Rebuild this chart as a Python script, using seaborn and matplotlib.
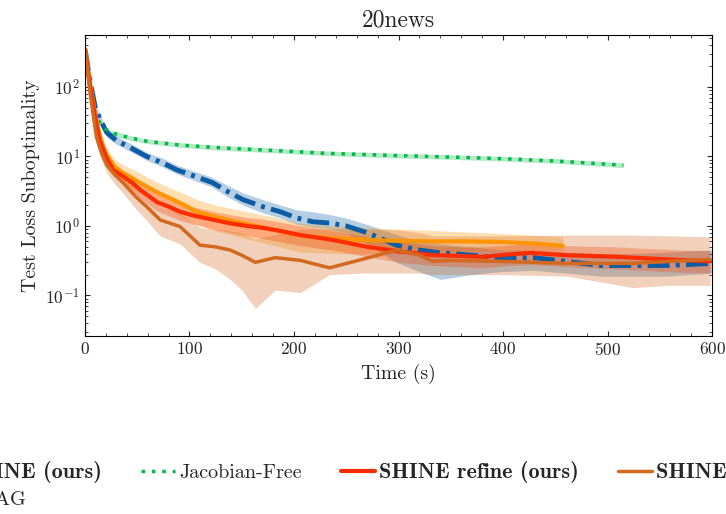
import numpy as np
import matplotlib
matplotlib.use('Agg')
import matplotlib.pyplot as plt
import seaborn as sns
from matplotlib.ticker import MultipleLocator, LogLocator

# ── Data ──────────────────────────────────────────────────────────────────────
shine_t = [0, 5, 10, 15, 21, 30, 45, 59, 75, 88, 105, 122, 137, 151, 170, 187,
           203, 218, 235, 250, 270, 298, 320, 340, 370, 397, 429, 460, 493,
           525, 557, 580, 600]
shine_y = [350, 120, 50, 33, 22, 17, 13, 10, 8, 6.4, 5.2, 4.2, 3.1, 2.4, 1.9,
           1.6, 1.3, 1.15, 1.1, 1.0, 0.8, 0.53, 0.45, 0.41, 0.38, 0.35, 0.35,
           0.31, 0.27, 0.27, 0.27, 0.28, 0.29]
shine_lo = [330, 105, 44, 29, 19, 15, 11.5, 8.8, 7, 5.6, 4.5, 3.6, 2.6, 2.0,
            1.55, 1.3, 1.05, 0.95, 0.9, 0.8, 0.55, 0.3, 0.22, 0.17, 0.2, 0.22,
            0.23, 0.21, 0.19, 0.19, 0.19, 0.2, 0.21]
shine_hi = [370, 135, 57, 38, 25, 19.5, 15, 11.5, 9.3, 7.5, 6.1, 5.0, 3.8, 3.0,
            2.4, 2.0, 1.7, 1.6, 1.45, 1.3, 1.05, 0.75, 0.6, 0.55, 0.5, 0.45,
            0.45, 0.42, 0.4, 0.4, 0.42, 0.44, 0.45]

jf_t = [0, 5, 10, 16, 25, 43, 60, 91, 120, 139, 180, 231, 300, 350, 400, 450, 515]
jf_y = [350, 100, 40, 27, 22, 18.5, 16.5, 14.6, 13.6, 13.1, 12.2, 11.1, 10.3,
        9.8, 9.3, 8.6, 7.5]
jf_lo = [330, 92, 37, 25, 20.3, 17.1, 15.3, 13.5, 12.6, 12.1, 11.3, 10.3, 9.5,
         9.1, 8.6, 8.0, 6.9]
jf_hi = [370, 108, 43, 29, 23.8, 20, 17.8, 15.8, 14.7, 14.2, 13.2, 12.0, 11.1,
         10.6, 10.0, 9.3, 8.1]

refine_t = [0, 5, 10, 14, 20, 27, 37, 45, 53, 69, 80, 91, 105, 116, 139, 155,
            170, 185, 206, 237, 270, 301, 333, 360, 381, 405, 426, 461, 509,
            557, 598]
refine_y = [350, 100, 35, 17, 10, 6.4, 5.1, 4.2, 3.3, 2.2, 1.9, 1.6, 1.4, 1.29,
            1.09, 1.0, 0.94, 0.86, 0.74, 0.63, 0.5, 0.43, 0.38, 0.37, 0.36,
            0.39, 0.41, 0.38, 0.36, 0.33, 0.31]
refine_lo = [330, 85, 29, 14, 8.2, 5.2, 4.0, 3.2, 2.5, 1.65, 1.4, 1.2, 1.05,
             0.95, 0.8, 0.72, 0.66, 0.6, 0.52, 0.45, 0.36, 0.3, 0.27, 0.26,
             0.25, 0.27, 0.28, 0.26, 0.24, 0.22, 0.21]
refine_hi = [370, 115, 41, 20, 12, 7.8, 6.3, 5.3, 4.2, 2.9, 2.5, 2.1, 1.85,
             1.7, 1.45, 1.32, 1.25, 1.15, 1.0, 0.86, 0.7, 0.6, 0.52, 0.5, 0.5,
             0.53, 0.55, 0.52, 0.5, 0.46, 0.44]

hoag_t = [0, 5, 10, 15, 20, 28, 36, 43, 50, 59, 70, 84, 95, 107, 125, 150, 175,
          206, 240, 270, 300, 333, 365, 397, 430, 457]
hoag_y = [350, 110, 38, 18, 11, 7.2, 5.8, 5.1, 4.4, 3.7, 3.0, 2.4, 2.0, 1.6,
          1.35, 1.1, 0.92, 0.72, 0.66, 0.63, 0.61, 0.6, 0.6, 0.59, 0.56, 0.52]
hoag_lo = [330, 95, 31, 14, 8.5, 5.4, 4.3, 3.6, 3.1, 2.6, 2.0, 1.6, 1.3, 1.05,
           0.85, 0.68, 0.55, 0.42, 0.4, 0.4, 0.4, 0.42, 0.43, 0.44, 0.44, 0.44]
hoag_hi = [370, 125, 45, 22, 14, 9.2, 7.6, 6.8, 6.0, 5.1, 4.2, 3.4, 2.9, 2.4,
           2.0, 1.65, 1.4, 1.1, 1.0, 0.95, 0.9, 0.86, 0.82, 0.78, 0.74, 0.7]

opa_t = [0, 5, 11, 16, 21, 27, 37, 49, 59, 72, 91, 110, 125, 139, 150, 163,
         182, 206, 234, 265, 298, 320, 333, 349, 397, 461, 524, 560, 598]
opa_y = [350, 80, 19, 11, 7.5, 5.8, 4.1, 2.6, 1.9, 1.22, 0.98, 0.53, 0.5, 0.45,
         0.38, 0.30, 0.35, 0.32, 0.25, 0.33, 0.45, 0.38, 0.31, 0.32, 0.31,
         0.29, 0.29, 0.31, 0.33]
opa_lo = [330, 68, 15.5, 8.7, 5.8, 4.3, 2.9, 1.75, 1.2, 0.72, 0.55, 0.3, 0.24,
          0.17, 0.12, 0.065, 0.12, 0.11, 0.2, 0.21, 0.21, 0.21, 0.2, 0.2, 0.2,
          0.19, 0.13, 0.14, 0.14]
opa_hi = [370, 92, 23, 14, 9.5, 7.5, 5.6, 3.7, 2.8, 1.9, 1.5, 0.95, 0.9, 0.85,
          0.78, 0.65, 0.75, 0.9, 0.92, 0.9, 0.88, 0.8, 0.72, 0.72, 0.72, 0.74,
          0.74, 0.72, 0.7]

# ── Style ─────────────────────────────────────────────────────────────────────
sns.set_style('ticks')
plt.rcParams.update({
    'font.family': 'serif',
    'font.serif': ['cmr10'],
    'mathtext.fontset': 'cm',
    'axes.formatter.use_mathtext': True,
    'axes.unicode_minus': False,
    'xtick.direction': 'in', 'ytick.direction': 'in',
    'xtick.top': True, 'ytick.right': True,
    'xtick.minor.visible': True, 'ytick.minor.visible': True,
    'axes.edgecolor': 'black', 'axes.linewidth': 0.8,
})

C_BLUE, C_GREEN, C_RED = '#0C5DA5', '#00B945', '#FF2C00'
C_ORANGE, C_BROWN = '#FF9500', '#D2691E'

fig = plt.figure(figsize=(7.26, 5.14), dpi=100)
ax = fig.add_axes([0.117, 0.346, 0.864, 0.586])

series = [
    ('SHINE (ours)', shine_t, shine_y, shine_lo, shine_hi, C_BLUE, 3.5, (0, (4.5, 1.3, 0.8, 1.3))),
    ('Jacobian-Free', jf_t, jf_y, jf_lo, jf_hi, C_GREEN, 2.5, (0, (1, 2))),
    ('HOAG', hoag_t, hoag_y, hoag_lo, hoag_hi, C_ORANGE, 3.0, '-'),
    ('SHINE refine (ours)', refine_t, refine_y, refine_lo, refine_hi, C_RED, 3.0, '-'),
    ('SHINE OPA (ours)', opa_t, opa_y, opa_lo, opa_hi, C_BROWN, 2.5, '-'),
]

handles = {}
for label, t, y, lo, hi, c, lw, ls in series:
    ax.fill_between(t, lo, hi, color=c, alpha=0.3, lw=0)
for label, t, y, lo, hi, c, lw, ls in series:
    sns.lineplot(x=t, y=y, ax=ax, color=c, lw=lw, linestyle=ls, label=label)
    line = ax.get_lines()[-1]
    line.set_dash_capstyle('butt')
    handles[label] = line

ax.set_yscale('log')
ax.set_xlim(0, 600)
ax.set_ylim(0.026, 560)
ax.xaxis.set_major_locator(MultipleLocator(100))
ax.xaxis.set_minor_locator(MultipleLocator(20))
ax.yaxis.set_minor_locator(LogLocator(base=10, subs=np.arange(2, 10)))
ax.tick_params(labelsize=12.5)
ax.set_title('20news', fontsize=17, pad=6)
ax.set_xlabel('Time (s)', fontsize=14.3)
ax.set_ylabel('Test Loss Suboptimality', fontsize=14.3)
ax.get_legend().remove()

order = ['SHINE (ours)', 'HOAG', 'Jacobian-Free', 'SHINE refine (ours)',
         'SHINE OPA (ours)']
leg = fig.legend([handles[k] for k in order], order, ncol=4, loc='upper center',
                 bbox_to_anchor=(0.534, 0.138), frameon=False, fontsize=14.5,
                 handlelength=1.7, handletextpad=0.2, columnspacing=1.95,
                 labelspacing=0.4)
for txt in leg.get_texts():
    if '(ours)' in txt.get_text():
        txt.set_family('cmb10')
        txt.set_fontsize(16)

fig.savefig('out.png', dpi=100)
